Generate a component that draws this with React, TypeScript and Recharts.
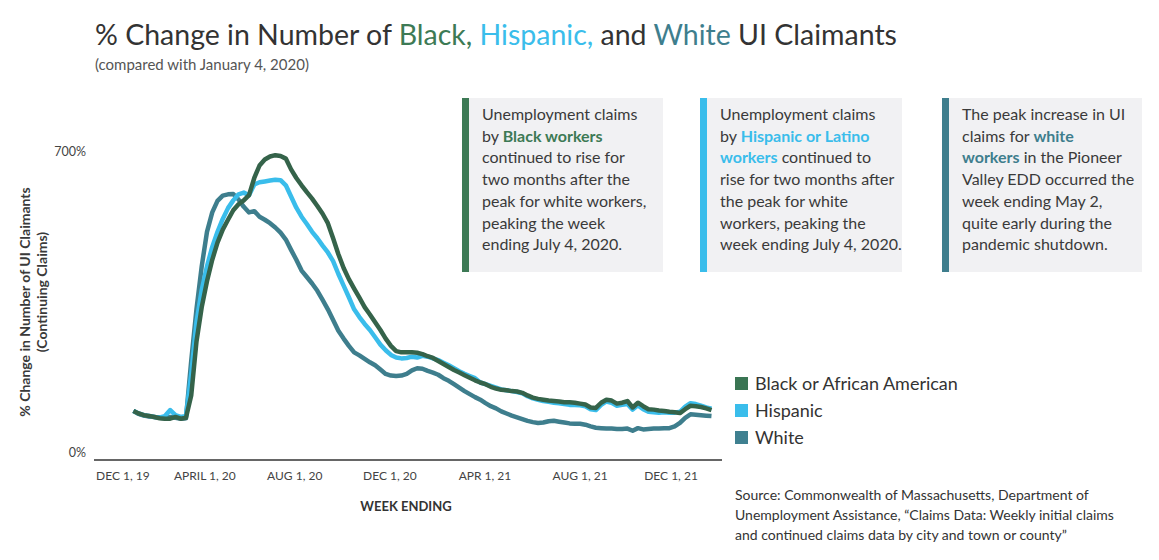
import React from 'react';
import { LineChart, Line, XAxis, YAxis } from 'recharts';

const FONT = 'Lato, "Open Sans", sans-serif';

// Colors
const BLACK_LINE = '#35634A';
const BLACK_TEXT = '#3D7A55';
const HISP = '#3ABDEB';
const WHITE_LINE = '#3E7E8D';

// Weeks counted from Dec 1, 2019 (first reading is week 2)
const FIRST_WEEK = 2;

// % change, Black or African American claimants (weekly)
const blackValues = [
  114, 108, 104, 102, 100, 97, 96, 96, 100, 96, 98, 150, 275, 355, 415, 465, 505, 535, 558, 580,
  594, 603, 615, 655, 684, 698, 705, 708, 706, 700, 675, 655, 638, 622, 607, 590, 572, 550, 515, 478,
  446, 420, 398, 377, 355, 338, 320, 302, 282, 265, 253, 250, 250, 250, 249, 246, 241, 237, 230, 223,
  216, 209, 203, 197, 191, 185, 180, 176, 170, 166, 163, 162, 160, 159, 156, 150, 145, 142, 140, 138,
  137, 136, 134, 134, 133, 131, 129, 122, 121, 133, 140, 138, 131, 133, 137, 122, 133, 125, 118, 117,
  115, 114, 112, 111, 109, 118, 126, 125, 123, 120, 116,
];

// % change, Hispanic claimants (weekly)
const hispanicValues = [
  114, 108, 104, 102, 100, 99, 102, 116, 104, 100, 102, 200, 320, 395, 450, 495, 530, 560, 585, 603,
  617, 621, 615, 640, 645, 647, 649, 651, 650, 638, 612, 586, 565, 548, 530, 515, 498, 482, 462, 432,
  405, 378, 350, 332, 316, 302, 285, 268, 255, 244, 238, 236, 237, 240, 238, 242, 240, 236, 232, 226,
  220, 213, 206, 200, 195, 190, 180, 176, 172, 168, 164, 162, 160, 158, 155, 148, 143, 140, 137, 135,
  133, 132, 130, 128, 128, 127, 125, 118, 116, 128, 136, 133, 126, 128, 130, 117, 127, 118, 112, 111,
  110, 111, 110, 110, 112, 124, 132, 130, 126, 122, 119,
];

// % change, White claimants (weekly)
const whiteValues = [
  114, 107, 103, 101, 100, 98, 97, 100, 98, 96, 97, 230, 350, 450, 530, 575, 602, 614, 617, 618,
  605, 588, 575, 578, 565, 558, 550, 540, 528, 512, 488, 465, 440, 425, 410, 393, 372, 350, 325, 300,
  282, 265, 250, 243, 235, 227, 220, 210, 200, 196, 195, 196, 200, 208, 213, 212, 207, 203, 198, 190,
  184, 176, 168, 160, 153, 146, 140, 132, 125, 120, 113, 108, 103, 99, 95, 91, 88, 86, 87, 90,
  91, 89, 87, 85, 84, 84, 82, 78, 75, 74, 73, 73, 72, 72, 73, 68, 74, 71, 72, 73,
  73, 74, 74, 78, 86, 98, 106, 105, 104, 103, 102,
];

const xTickWeeks = [0, 15.6, 32.7, 50.8, 68.9, 87.0, 104.3];
const xTickLabels = ['DEC 1, 19', 'APRIL 1, 20', 'AUG 1, 20', 'DEC 1, 20', 'APR 1, 21', 'AUG 1, 21', 'DEC 1, 21'];
const yTicks = [0, 700];

const legendItems = [
  { name: 'Black or African American', color: '#3A7553' },
  { name: 'Hispanic', color: HISP },
  { name: 'White', color: '#3F8090' },
];

const chartData = blackValues.map((v, i) => ({
  week: FIRST_WEEK + i,
  black: v,
  hispanic: hispanicValues[i],
  white: whiteValues[i],
}));

const XTick = ({ x, y, payload }: any) => {
  const idx = xTickWeeks.indexOf(payload.value);
  return (
    <text x={x} y={y + 12} textAnchor="middle" fontSize={12} fill="#444" fontFamily={FONT}>
      {xTickLabels[idx]}
    </text>
  );
};

const YTick = ({ x, y, payload }: any) => (
  <text x={x} y={y - 3} textAnchor="end" fontSize={12.5} fill="#444" fontFamily={FONT}>
    {payload.value}%
  </text>
);

type Seg = { t: string; b?: string };
const box1: Seg[][] = [
  [{ t: 'Unemployment claims' }],
  [{ t: 'by ' }, { t: 'Black workers', b: BLACK_TEXT }],
  [{ t: 'continued to rise for' }],
  [{ t: 'two months after the' }],
  [{ t: 'peak for white workers,' }],
  [{ t: 'peaking the week' }],
  [{ t: 'ending July 4, 2020.' }],
];
const box2: Seg[][] = [
  [{ t: 'Unemployment claims' }],
  [{ t: 'by ' }, { t: 'Hispanic or Latino', b: HISP }],
  [{ t: 'workers', b: HISP }, { t: ' continued to' }],
  [{ t: 'rise for two months after' }],
  [{ t: 'the peak for white' }],
  [{ t: 'workers, peaking the' }],
  [{ t: 'week ending July 4, 2020.' }],
];
const box3: Seg[][] = [
  [{ t: 'The peak increase in UI' }],
  [{ t: 'claims for ' }, { t: 'white', b: WHITE_LINE }],
  [{ t: 'workers', b: WHITE_LINE }, { t: ' in the Pioneer' }],
  [{ t: 'Valley EDD occurred the' }],
  [{ t: 'week ending May 2,' }],
  [{ t: 'quite early during the' }],
  [{ t: 'pandemic shutdown.' }],
];

const NoteBox = ({ left, width, bar, lines }: { left: number; width: number; bar: string; lines: Seg[][] }) => (
  <div
    style={{
      position: 'absolute',
      left,
      top: 98,
      width,
      height: 174,
      background: '#F1F1F3',
      borderLeft: `7px solid ${bar}`,
      boxSizing: 'border-box',
      paddingLeft: 13,
      paddingTop: 5,
    }}
  >
    {lines.map((segs, i) => (
      <div key={i} style={{ fontSize: 16, lineHeight: '21.7px', color: '#3a3a3a', whiteSpace: 'nowrap' }}>
        {segs.map((s, j) => (
          <span key={j} style={s.b ? { color: s.b, fontWeight: 700 } : undefined}>
            {s.t}
          </span>
        ))}
      </div>
    ))}
  </div>
);

const rotatedLabel = (cx: number, cy: number): React.CSSProperties => ({
  position: 'absolute',
  left: cx - 150,
  top: cy - 9,
  width: 300,
  height: 18,
  textAlign: 'center',
  transform: 'rotate(-90deg)',
  fontSize: 14,
  fontWeight: 700,
  lineHeight: '18px',
  color: '#3a3a3a',
  whiteSpace: 'nowrap',
});

export default function App() {
  return (
    <div style={{ position: 'absolute', left: 0, top: 0, width: 1159, height: 560, background: '#fff', fontFamily: FONT, overflow: 'hidden' }}>
      {/* title */}
      <div style={{ position: 'absolute', left: 95, top: 16, fontSize: 28.5, lineHeight: '36px', color: '#333', whiteSpace: 'nowrap' }}>
        % Change in Number of <span style={{ color: BLACK_TEXT }}>Black,</span>{' '}
        <span style={{ color: HISP }}>Hispanic,</span> and <span style={{ color: WHITE_LINE }}>White</span> UI Claimants
      </div>
      <div style={{ position: 'absolute', left: 95, top: 54, fontSize: 15, lineHeight: '20px', color: '#555', whiteSpace: 'nowrap' }}>
        (compared with January 4, 2020)
      </div>

      <LineChart
        width={740}
        height={520}
        data={chartData}
        margin={{ top: 150, right: 18, bottom: 30, left: 34 }}
        style={{ position: 'absolute', left: 0, top: 0 }}
      >
        <XAxis
          dataKey="week"
          type="number"
          domain={[-5.5, 114]}
          ticks={xTickWeeks}
          tick={<XTick />}
          tickLine={false}
          axisLine={{ stroke: '#666', strokeWidth: 2 }}
          height={30}
          interval={0}
        />
        <YAxis
          type="number"
          domain={[0, 720]}
          ticks={yTicks}
          tick={<YTick />}
          tickLine={false}
          axisLine={false}
          width={60}
          interval={0}
        />
        <Line dataKey="white" type="linear" stroke={WHITE_LINE} strokeWidth={4.5} dot={false} isAnimationActive={false} strokeLinejoin="round" />
        <Line dataKey="hispanic" type="linear" stroke={HISP} strokeWidth={4.5} dot={false} isAnimationActive={false} strokeLinejoin="round" />
        <Line dataKey="black" type="linear" stroke={BLACK_LINE} strokeWidth={4.5} dot={false} isAnimationActive={false} strokeLinejoin="round" />
      </LineChart>

      {/* y axis title */}
      <div style={rotatedLabel(25, 302)}>% Change in Number of UI Claimants</div>
      <div style={rotatedLabel(42, 292)}>(Continuing Claims)</div>

      {/* x axis title */}
      <div style={{ position: 'absolute', left: 306, width: 200, top: 498, textAlign: 'center', fontSize: 13, fontWeight: 700, color: '#333' }}>
        WEEK ENDING
      </div>

      <NoteBox left={462} width={201} bar={BLACK_TEXT} lines={box1} />
      <NoteBox left={700} width={202} bar={HISP} lines={box2} />
      <NoteBox left={942} width={200} bar={WHITE_LINE} lines={box3} />

      {/* legend */}
      {legendItems.map((item, i) => (
        <div key={item.name} style={{ position: 'absolute', left: 735, top: 372 + i * 27, height: 22, display: 'flex', alignItems: 'center', whiteSpace: 'nowrap' }}>
          <span style={{ display: 'inline-block', width: 13, height: 13, background: item.color, marginRight: 7 }} />
          <span style={{ fontSize: 18, color: '#333' }}>{item.name}</span>
        </div>
      ))}

      {/* source */}
      <div style={{ position: 'absolute', left: 735, top: 485, fontSize: 14, lineHeight: '20px', color: '#333', whiteSpace: 'nowrap' }}>
        <div>Source: Commonwealth of Massachusetts, Department of</div>
        <div>Unemployment Assistance, “Claims Data: Weekly initial claims</div>
        <div>and continued claims data by city and town or county”</div>
      </div>
    </div>
  );
}
